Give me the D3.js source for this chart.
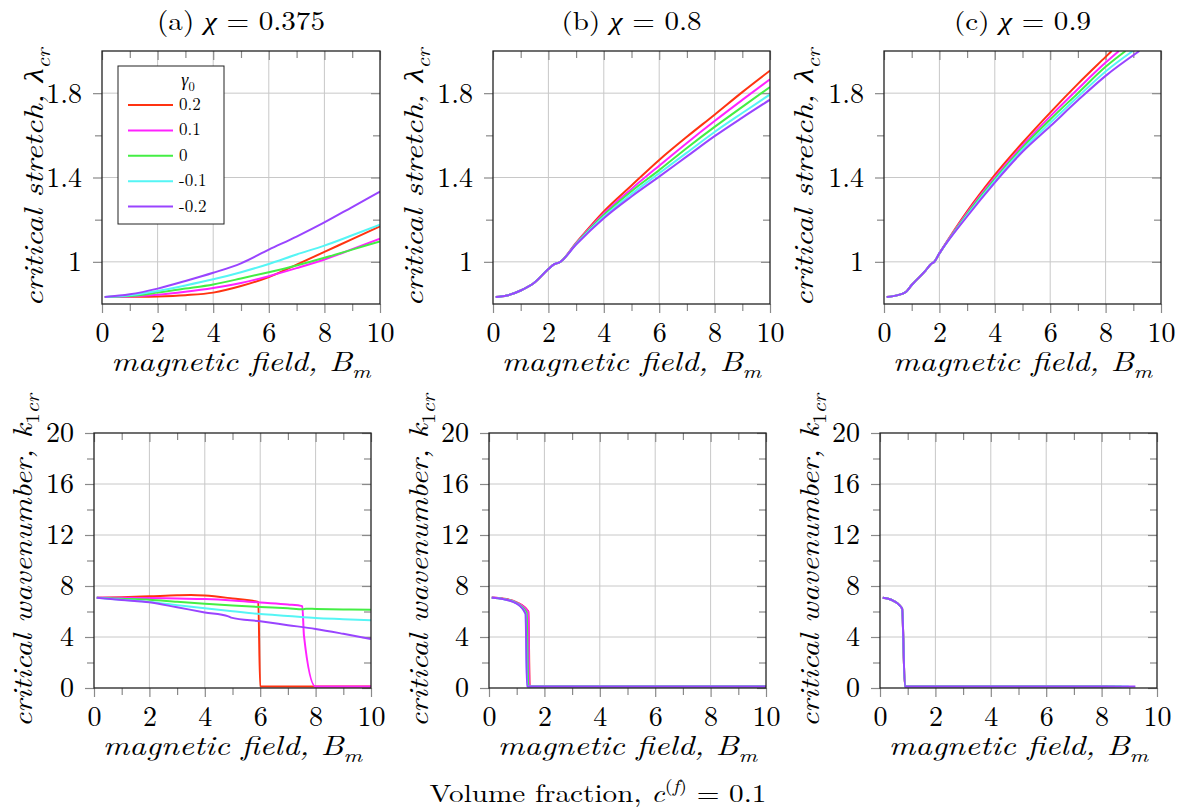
<!DOCTYPE html>
<html>
<head>
<meta charset="utf-8">
<script src="https://cdn.jsdelivr.net/npm/d3@7"></script>
<style>
  body { margin: 0; background: #fff; }
</style>
</head>
<body>
<svg id="fig" width="1185" height="812"></svg>
<script>
// ---------- data ----------
const gammaLabels = ["0.2", "0.1", "0", "-0.1", "-0.2"];

const xMajor = [0, 2, 4, 6, 8, 10];
const xMinor = [1, 3, 5, 7, 9];
const xTickLabels = ["0", "2", "4", "6", "8", "10"];
const yMajorStretch = [1, 1.4, 1.8];
const yMinorStretch = [1.2, 1.6];
const yLabelsStretch = ["1", "1.4", "1.8"];
const yMajorWave = [0, 4, 8, 12, 16, 20];
const yMinorWave = [2, 6, 10, 14, 18];
const yLabelsWave = ["0", "4", "8", "12", "16", "20"];

// (a) chi = 0.375 : critical stretch vs B_m
const stretchA_p02 = [[0.1,0.833],[1,0.834],[2,0.836],[3,0.842],[4,0.854],[5,0.885],[6,0.928],[7,0.987],[8,1.047],[9,1.108],[10,1.168]];
const stretchA_p01 = [[0.1,0.833],[1,0.836],[2,0.844],[3,0.858],[4,0.876],[5,0.900],[6,0.932],[7,0.970],[8,1.011],[9,1.060],[10,1.110]];
const stretchA_0   = [[0.1,0.833],[1,0.838],[2,0.854],[3,0.873],[4,0.893],[5,0.921],[6,0.951],[7,0.983],[8,1.019],[9,1.058],[10,1.097]];
const stretchA_m01 = [[0.1,0.833],[1,0.841],[2,0.862],[3,0.888],[4,0.917],[5,0.951],[6,0.990],[7,1.035],[8,1.077],[9,1.126],[10,1.176]];
const stretchA_m02 = [[0.1,0.833],[1,0.846],[2,0.873],[3,0.909],[4,0.948],[5,0.993],[6,1.058],[7,1.120],[8,1.187],[9,1.260],[10,1.333]];

// (b) chi = 0.8
const stretchB_p02 = [[0.1,0.833],[0.5,0.840],[1,0.864],[1.5,0.902],[2,0.966],[2.2,0.988],[2.4,0.997],[3,1.090],[4,1.239],[5,1.362],[6,1.483],[7,1.593],[8,1.698],[9,1.805],[10,1.907]];
const stretchB_p01 = [[0.1,0.833],[0.5,0.840],[1,0.864],[1.5,0.902],[2,0.966],[2.2,0.988],[2.4,0.997],[3,1.088],[4,1.229],[5,1.346],[6,1.456],[7,1.564],[8,1.668],[9,1.768],[10,1.866]];
const stretchB_0   = [[0.1,0.833],[0.5,0.840],[1,0.864],[1.5,0.902],[2,0.966],[2.2,0.988],[2.4,0.997],[3,1.086],[4,1.222],[5,1.335],[6,1.435],[7,1.540],[8,1.640],[9,1.735],[10,1.829]];
const stretchB_m01 = [[0.1,0.833],[0.5,0.840],[1,0.864],[1.5,0.902],[2,0.966],[2.2,0.988],[2.4,0.997],[3,1.084],[4,1.214],[5,1.322],[6,1.420],[7,1.518],[8,1.616],[9,1.706],[10,1.794]];
const stretchB_m02 = [[0.1,0.833],[0.5,0.840],[1,0.864],[1.5,0.902],[2,0.966],[2.2,0.988],[2.4,0.997],[3,1.082],[4,1.207],[5,1.310],[6,1.404],[7,1.500],[8,1.596],[9,1.684],[10,1.769]];

// (c) chi = 0.9
const stretchC_p02 = [[0.1,0.833],[0.5,0.842],[0.8,0.858],[1,0.890],[1.5,0.958],[1.7,0.990],[1.8,0.998],[2,1.040],[3,1.239],[4,1.412],[5,1.565],[6,1.708],[7,1.844],[8,1.972],[8.22,2.0]];
const stretchC_p01 = [[0.1,0.833],[0.5,0.842],[0.8,0.858],[1,0.890],[1.5,0.958],[1.7,0.990],[1.8,0.998],[2,1.040],[3,1.232],[4,1.400],[5,1.552],[6,1.690],[7,1.820],[8,1.945],[8.48,2.0]];
const stretchC_0   = [[0.1,0.833],[0.5,0.842],[0.8,0.858],[1,0.890],[1.5,0.958],[1.7,0.990],[1.8,0.998],[2,1.040],[3,1.227],[4,1.392],[5,1.542],[6,1.675],[7,1.800],[8,1.925],[8.72,2.0]];
const stretchC_m01 = [[0.1,0.833],[0.5,0.842],[0.8,0.858],[1,0.890],[1.5,0.958],[1.7,0.990],[1.8,0.998],[2,1.040],[3,1.220],[4,1.384],[5,1.532],[6,1.659],[7,1.783],[8,1.903],[8.98,2.0]];
const stretchC_m02 = [[0.1,0.833],[0.5,0.842],[0.8,0.858],[1,0.890],[1.5,0.958],[1.7,0.990],[1.8,0.998],[2,1.040],[3,1.215],[4,1.376],[5,1.522],[6,1.643],[7,1.766],[8,1.882],[9.22,2.0]];

// (a) critical wavenumber
const waveA_p02 = [[0.1,7.08],[1,7.12],[2,7.19],[3,7.27],[3.5,7.29],[4,7.25],[5,7.02],[5.93,6.75],[6.0,0.12],[10,0.12]];
const waveA_p01 = [[0.1,7.08],[1,7.08],[2,7.06],[3,7.02],[4,6.98],[5,6.87],[6,6.70],[7,6.55],[7.52,6.42],[7.58,4.1],[7.99,0.12],[10,0.12]];
const waveA_0   = [[0.1,7.08],[1,7.00],[2,6.93],[3,6.76],[4,6.61],[5,6.47],[6,6.35],[7,6.25],[7.55,6.18],[7.65,6.22],[8,6.20],[9,6.16],[10,6.14]];
const waveA_m01 = [[0.1,7.08],[1,6.93],[2,6.75],[3,6.50],[4,6.25],[5,6.02],[6,5.80],[7,5.65],[8,5.49],[9,5.40],[10,5.31]];
const waveA_m02 = [[0.1,7.08],[1,6.90],[2,6.72],[3,6.33],[4,5.93],[4.85,5.62],[4.95,5.52],[6,5.23],[7,4.93],[8,4.63],[9,4.25],[10,3.84]];

// (b) critical wavenumber
const waveB_p02 = [[0.1,7.10],[0.5,7.02],[1,6.72],[1.42,6.00],[1.47,0.12],[10,0.12]];
const waveB_p01 = [[0.1,7.10],[0.5,7.01],[1,6.70],[1.42,5.95],[1.46,0.12],[10,0.12]];
const waveB_0   = [[0.1,7.08],[0.5,6.99],[1,6.66],[1.36,5.90],[1.42,0.12],[10,0.12]];
const waveB_m01 = [[0.1,7.08],[0.5,6.98],[1,6.63],[1.32,5.85],[1.38,0.12],[10,0.12]];
const waveB_m02 = [[0.1,7.08],[0.5,6.98],[1,6.62],[1.32,5.82],[1.37,0.12],[10,0.12]];

// (c) critical wavenumber
const waveC_p02 = [[0.1,7.08],[0.3,7.00],[0.5,6.82],[0.7,6.50],[0.8,6.20],[0.9,0.12],[8.22,0.12]];
const waveC_p01 = [[0.1,7.08],[0.3,7.00],[0.5,6.82],[0.7,6.50],[0.8,6.20],[0.9,0.12],[8.48,0.12]];
const waveC_0   = [[0.1,7.08],[0.3,7.00],[0.5,6.82],[0.7,6.50],[0.8,6.20],[0.9,0.12],[8.72,0.12]];
const waveC_m01 = [[0.1,7.08],[0.3,7.00],[0.5,6.82],[0.7,6.50],[0.8,6.20],[0.9,0.12],[8.98,0.12]];
const waveC_m02 = [[0.1,7.08],[0.3,7.00],[0.5,6.82],[0.7,6.50],[0.8,6.20],[0.9,0.12],[9.22,0.12]];

// ---------- styling ----------
const FONT = '"Latin Modern Roman", "Liberation Serif", serif';
const COLORS = ["#ff3311", "#ff22ff", "#44ee44", "#55f5f5", "#9944ff"];
const GRID = "#c8c8c8", TICK = "#8a8a8a", FRAME = "#222";
const TICK_FONT = 28;

const svg = d3.select("#fig");
const defs = svg.append("defs");
let clipId = 0;

// Text made of roman / italic / sub / sup pieces, stretched to a given width
function mathText(parent, parts, o) {
  const g = parent.append("g")
    .attr("transform", `translate(${o.x},${o.y})` + (o.rotate ? ` rotate(${o.rotate})` : ""));
  const t = g.append("text").style("font-family", FONT).attr("font-size", o.size)
    .attr("text-anchor", o.anchor || "middle").attr("fill", "#000")
    .style("white-space", "pre");
  let shift = 0;
  parts.forEach(p => {
    const ts = t.append("tspan").text(p.t).style("font-family", FONT);
    if (p.i) ts.attr("font-style", "italic");
    const target = p.sub ? 0.25 : p.sup ? -0.42 : 0;
    ts.attr("font-size", (p.sub || p.sup) ? o.size * 0.7 : o.size);
    const dy = (target - shift) * o.size;
    if (dy) ts.attr("dy", dy);
    shift = target;
  });
  if (o.width) {
    const w = t.node().getBBox().width;
    if (w > 0) t.attr("transform", `scale(${o.width / w},1)`);
  }
  return g;
}

function drawPanel(p) {
  const x = d3.scaleLinear().domain([0, 10]).range([p.left, p.right]);
  const y = d3.scaleLinear().domain(p.yDomain).range([p.bottom, p.top]);
  const g = svg.append("g");

  // grid
  g.append("g").selectAll("line").data(xMajor.filter(v => v > 0 && v < 10)).join("line")
    .attr("x1", d => x(d)).attr("x2", d => x(d)).attr("y1", p.top).attr("y2", p.bottom)
    .attr("stroke", GRID).attr("stroke-width", 1);
  g.append("g").selectAll("line").data(p.yMajor.filter(v => v > p.yDomain[0] && v < p.yDomain[1])).join("line")
    .attr("y1", d => y(d)).attr("y2", d => y(d)).attr("x1", p.left).attr("x2", p.right)
    .attr("stroke", GRID).attr("stroke-width", 1);

  // ticks: outward on bottom/left, inward on top/right
  const axes = [
    [d3.axisBottom(x).tickValues(xMajor).tickSize(9).tickPadding(9).tickFormat((d, i) => xTickLabels[i]), `translate(0,${p.bottom})`],
    [d3.axisBottom(x).tickValues(xMinor).tickSize(7).tickFormat(""), `translate(0,${p.bottom})`],
    [d3.axisTop(x).tickValues(xMajor).tickSize(-9).tickFormat(""), `translate(0,${p.top})`],
    [d3.axisTop(x).tickValues(xMinor).tickSize(-7).tickFormat(""), `translate(0,${p.top})`],
    [d3.axisLeft(y).tickValues(p.yMajor).tickSize(9).tickPadding(11).tickFormat((d, i) => p.yLabels[i]), `translate(${p.left},0)`],
    [d3.axisLeft(y).tickValues(p.yMinor).tickSize(7).tickFormat(""), `translate(${p.left},0)`],
    [d3.axisRight(y).tickValues(p.yMajor).tickSize(-9).tickFormat(""), `translate(${p.right},0)`],
    [d3.axisRight(y).tickValues(p.yMinor).tickSize(-7).tickFormat(""), `translate(${p.right},0)`]
  ];
  axes.forEach(([ax, tr]) => {
    const a = g.append("g").attr("transform", tr).call(ax);
    a.select(".domain").remove();
    a.attr("font-family", null).attr("font-size", null);
    a.selectAll(".tick line").attr("stroke", TICK).attr("stroke-width", 1.2);
    a.selectAll(".tick text").style("font-family", FONT).attr("font-size", TICK_FONT).attr("fill", "#000");
  });

  // curves
  const id = "clip" + (clipId++);
  defs.append("clipPath").attr("id", id).append("rect")
    .attr("x", p.left).attr("y", p.top).attr("width", p.right - p.left).attr("height", p.bottom - p.top);
  const line = d3.line().x(d => x(d[0])).y(d => y(d[1])).curve(d3.curveMonotoneX);
  g.append("g").attr("clip-path", `url(#${id})`).selectAll("path").data(p.series).join("path")
    .attr("d", line).attr("fill", "none")
    .attr("stroke", (d, i) => COLORS[i]).attr("stroke-width", 2).attr("stroke-linejoin", "round");

  // frame
  g.append("rect").attr("x", p.left).attr("y", p.top)
    .attr("width", p.right - p.left).attr("height", p.bottom - p.top)
    .attr("fill", "none").attr("stroke", FRAME).attr("stroke-width", 1.3);

  const cx = (p.left + p.right) / 2, cy = (p.top + p.bottom) / 2;
  // x label
  mathText(svg, [{t: "magnetic field, ", i: true}, {t: "B", i: true}, {t: "m", i: true, sub: true}],
    {x: cx, y: p.xLabelY, size: 27, width: 260});
  // y label
  mathText(svg, p.yLabelParts, {x: p.yLabelX, y: cy, size: 28, rotate: -90, width: p.yLabelWidth});
  // title
  if (p.title) mathText(svg, p.title, {x: cx, y: 30, size: 26, width: p.titleWidth});
  return {x, y};
}

const stretchLabel = [{t: "critical stretch, ", i: true}, {t: "λ", i: true}, {t: "cr", i: true, sub: true}];
const waveLabel = [{t: "critical wavenumber, ", i: true}, {t: "k", i: true}, {t: "1", sub: true}, {t: "cr", i: true, sub: true}];

const topCommon = {top: 51, bottom: 304, yDomain: [0.8, 2.0], yMajor: yMajorStretch, yMinor: yMinorStretch,
  yLabels: yLabelsStretch, yLabelParts: stretchLabel, yLabelWidth: 260, xLabelY: 371};
const botCommon = {top: 433, bottom: 688, yDomain: [0, 20], yMajor: yMajorWave, yMinor: yMinorWave,
  yLabels: yLabelsWave, yLabelParts: waveLabel, yLabelWidth: 335, xLabelY: 755};

drawPanel({...topCommon, left: 102, right: 380, yLabelX: 43,
  series: [stretchA_p02, stretchA_p01, stretchA_0, stretchA_m01, stretchA_m02],
  title: [{t: "(a) "}, {t: "χ", i: true}, {t: " = 0.375"}], titleWidth: 168});
drawPanel({...topCommon, left: 493, right: 770, yLabelX: 423,
  series: [stretchB_p02, stretchB_p01, stretchB_0, stretchB_m01, stretchB_m02],
  title: [{t: "(b) "}, {t: "χ", i: true}, {t: " = 0.8"}], titleWidth: 140});
drawPanel({...topCommon, left: 884, right: 1161, yLabelX: 813,
  series: [stretchC_p02, stretchC_p01, stretchC_0, stretchC_m01, stretchC_m02],
  title: [{t: "(c) "}, {t: "χ", i: true}, {t: " = 0.9"}], titleWidth: 137});
drawPanel({...botCommon, left: 94, right: 371, yLabelX: 32,
  series: [waveA_p02, waveA_p01, waveA_0, waveA_m01, waveA_m02]});
drawPanel({...botCommon, left: 489, right: 766, yLabelX: 428,
  series: [waveB_p02, waveB_p01, waveB_0, waveB_m01, waveB_m02]});
drawPanel({...botCommon, left: 880, right: 1157, yLabelX: 819,
  series: [waveC_p02, waveC_p01, waveC_0, waveC_m01, waveC_m02]});

// legend for the gamma_0 values
const lg = svg.append("g");
lg.append("rect").attr("x", 118).attr("y", 66).attr("width", 106).attr("height", 158)
  .attr("fill", "#fff").attr("stroke", FRAME).attr("stroke-width", 1);
mathText(lg, [{t: "γ", i: true}, {t: "0", sub: true}], {x: 188, y: 86, size: 18});
gammaLabels.forEach((lab, i) => {
  const yy = 105 + i * 25.4;
  lg.append("line").attr("x1", 128).attr("x2", 173).attr("y1", yy).attr("y2", yy)
    .attr("stroke", COLORS[i]).attr("stroke-width", 2);
  lg.append("text").attr("x", 179).attr("y", yy + 5).style("font-family", FONT)
    .attr("font-size", 17).attr("fill", "#000").text(lab);
});

// overall caption
mathText(svg, [{t: "Volume fraction, "}, {t: "c", i: true}, {t: "(", sup: true}, {t: "f", i: true, sup: true},
  {t: ")", sup: true}, {t: " = 0.1"}], {x: 598, y: 802, size: 25, width: 337});
</script>
</body>
</html>
